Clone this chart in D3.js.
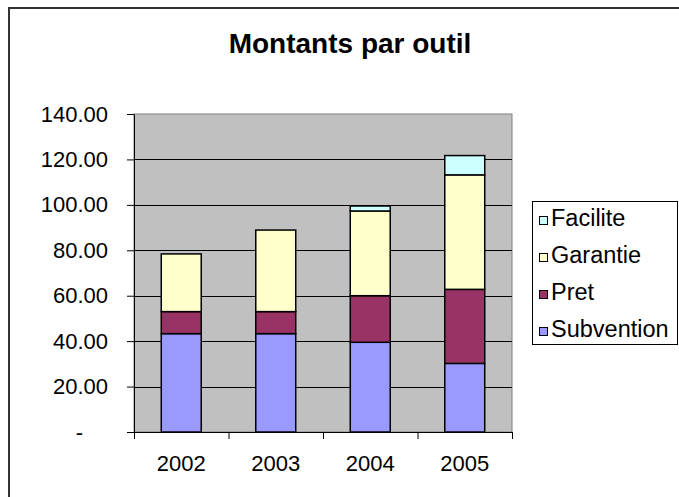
<!DOCTYPE html>
<html>
<head>
<meta charset="utf-8">
<script src="https://cdn.jsdelivr.net/npm/d3@7"></script>
<style>
  body { margin: 0; background: #fff; }
  svg text { font-family: Arial, 'Liberation Sans', sans-serif; fill: #000; }
</style>
</head>
<body>
<div id="chart"></div>
<script>
// values
const years = ['2002', '2003', '2004', '2005'];
const seriesNames = ['Subvention', 'Pret', 'Garantie', 'Facilite'];
const subvention = [43.3, 43.3, 39.5, 30.2];
const pret = [9.7, 9.7, 20.5, 32.6];
const garantie = [25.4, 35.9, 37.3, 50.4];
const facilite = [0, 0, 2.2, 8.5];
const yTicks = [0, 20, 40, 60, 80, 100, 120, 140];

const colors = {
    Subvention: '#9999FF',
    Pret: '#993366',
    Garantie: '#FFFFCC',
    Facilite: '#CCFFFF'
};

// build rows for d3.stack
const rows = years.map((y, i) => ({
    year: y,
    Subvention: subvention[i],
    Pret: pret[i],
    Garantie: garantie[i],
    Facilite: facilite[i]
}));

const width = 679, height = 497;
const plot = {left: 134, right: 512, top: 114, bottom: 432};

const svg = d3.select('#chart').append('svg')
    .attr('width', width)
    .attr('height', height);

// outer chart border (cut off at right and bottom)
svg.append('rect')
    .attr('x', 9).attr('y', 8)
    .attr('width', 720).attr('height', 600)
    .attr('fill', 'none')
    .attr('stroke', '#333')
    .attr('stroke-width', 2);

svg.append('text')
    .attr('x', 350).attr('y', 53)
    .attr('text-anchor', 'middle')
    .style('font-size', '28px')
    .style('font-weight', 'bold')
    .text('Montants par outil');

const xScale = d3.scaleBand()
    .domain(years)
    .range([plot.left, plot.right])
    .paddingInner(0.577)
    .paddingOuter(0.2885);

const yScale = d3.scaleLinear()
    .domain([0, 140])
    .range([plot.bottom, plot.top]);

// plot area background
svg.append('rect')
    .attr('x', plot.left).attr('y', plot.top)
    .attr('width', plot.right - plot.left)
    .attr('height', plot.bottom - plot.top)
    .attr('fill', '#C0C0C0')
    .attr('stroke', '#808080')
    .attr('stroke-width', 1);

// gridlines
svg.append('g')
    .selectAll('line')
    .data(yTicks.filter(d => d > 0 && d < 140))
    .join('line')
    .attr('x1', plot.left).attr('x2', plot.right)
    .attr('y1', d => Math.round(yScale(d)) + 0.5)
    .attr('y2', d => Math.round(yScale(d)) + 0.5)
    .attr('stroke', '#000')
    .attr('stroke-width', 1);

// stacked bars
const stack = d3.stack().keys(seriesNames);
const stacked = stack(rows);

svg.append('g')
    .selectAll('g')
    .data(stacked)
    .join('g')
    .attr('fill', d => colors[d.key])
    .selectAll('rect')
    .data(d => d.filter(s => s[1] - s[0] > 0))
    .join('rect')
    .attr('x', d => xScale(d.data.year))
    .attr('width', xScale.bandwidth())
    .attr('y', d => yScale(d[1]))
    .attr('height', d => yScale(d[0]) - yScale(d[1]))
    .attr('stroke', '#000')
    .attr('stroke-width', 1.5);

// y axis
const yAxis = d3.axisLeft(yScale)
    .tickValues(yTicks)
    .tickSize(7)
    .tickSizeOuter(0)
    .tickFormat(d => d === 0 ? '-' : d.toFixed(2));

const yAxisG = svg.append('g')
    .attr('transform', `translate(${plot.left},0)`)
    .call(yAxis);
yAxisG.selectAll('text')
    .attr('x', d => d === 0 ? -51 : -26)
    .style('font-size', '22px');
yAxisG.select('.domain').attr('stroke', '#000');

// x axis: ticks at category boundaries, labels at centres
const edgeScale = d3.scaleLinear().domain([0, years.length]).range([plot.left, plot.right]);
svg.append('g')
    .attr('transform', `translate(0,${plot.bottom})`)
    .call(d3.axisBottom(edgeScale).tickValues(d3.range(years.length + 1)).tickSize(7).tickSizeOuter(0).tickFormat(''));

const xLabels = svg.append('g')
    .attr('transform', `translate(0,${plot.bottom})`)
    .call(d3.axisBottom(xScale).tickSize(0));
xLabels.select('.domain').remove();
xLabels.selectAll('text')
    .attr('dy', null)
    .attr('y', 39)
    .style('font-size', '22px');

// legend
const legend = svg.append('g');
legend.append('rect')
    .attr('x', 532.5).attr('y', 201.5)
    .attr('width', 145).attr('height', 143)
    .attr('fill', '#fff')
    .attr('stroke', '#000')
    .attr('stroke-width', 1);

const legendItems = legend.selectAll('g.item')
    .data(seriesNames.slice().reverse())
    .join('g')
    .attr('class', 'item')
    .attr('transform', (d, i) => `translate(0,${226 + i * 37})`);

legendItems.append('rect')
    .attr('x', 539.5).attr('y', -9.5)
    .attr('width', 8).attr('height', 8)
    .attr('fill', d => colors[d])
    .attr('stroke', '#000')
    .attr('stroke-width', 1);

legendItems.append('text')
    .attr('x', 551).attr('y', 0)
    .style('font-size', '23.5px')
    .text(d => d);
</script>
</body>
</html>
